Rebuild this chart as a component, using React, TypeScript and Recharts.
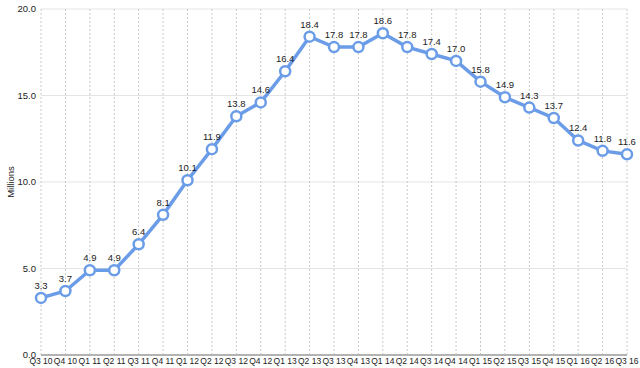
import { CartesianGrid, LabelList, Line, LineChart, XAxis, YAxis } from 'recharts'

const quarters = [
  'Q3 10', 'Q4 10', 'Q1 11', 'Q2 11', 'Q3 11', 'Q4 11', 'Q1 12', 'Q2 12', 'Q3 12',
  'Q4 12', 'Q1 13', 'Q2 13', 'Q3 13', 'Q4 13', 'Q1 14', 'Q2 14', 'Q3 14', 'Q4 14',
  'Q1 15', 'Q2 15', 'Q3 15', 'Q4 15', 'Q1 16', 'Q2 16', 'Q3 16',
]

const millions = [
  3.3, 3.7, 4.9, 4.9, 6.4, 8.1, 10.1, 11.9, 13.8, 14.6, 16.4, 18.4, 17.8, 17.8, 18.6,
  17.8, 17.4, 17.0, 15.8, 14.9, 14.3, 13.7, 12.4, 11.8, 11.6,
]

const yTicks = [0, 5, 10, 15, 20]

const font = 'Helvetica, Arial, "Liberation Sans", sans-serif'

const chartData = quarters.map((quarter, i) => ({ quarter, value: millions[i] }))

type LabelViewBox = { viewBox?: { x: number; y: number; width: number; height: number } }

function AxisTitle({ viewBox }: LabelViewBox) {
  if (!viewBox) return null
  const x = viewBox.x + 10
  const y = viewBox.y + viewBox.height / 2
  return (
    <text
      x={x}
      y={y}
      transform={`rotate(-90, ${x}, ${y})`}
      textAnchor="middle"
      dominantBaseline="central"
      fontSize={9.5}
      fill="#222"
      fontFamily={font}
    >
      Millions
    </text>
  )
}

export default function App() {
  return (
    <div style={{ position: 'absolute', left: 0, top: 0, background: '#fff' }}>
      <LineChart
        width={640}
        height={368}
        data={chartData}
        margin={{ top: 9, right: 13, bottom: 0, left: 0 }}
        style={{ fontFamily: font }}
      >
        <CartesianGrid vertical={false} stroke="#e4e4e4" />
        <CartesianGrid horizontal={false} stroke="#c8c8c8" strokeDasharray="2 2" />
        <XAxis
          dataKey="quarter"
          height={13}
          interval={0}
          tickLine={false}
          tickSize={0}
          tickMargin={3}
          axisLine={{ stroke: '#b3b3b3', strokeWidth: 2 }}
          tick={{ fontSize: 8.5, fill: '#222' }}
        />
        <YAxis
          width={41}
          domain={[0, 20]}
          ticks={yTicks}
          axisLine={false}
          tickLine={false}
          tickSize={0}
          tickMargin={5}
          tick={{ fontSize: 9.5, fill: '#222' }}
          tickFormatter={(value) => Number(value).toFixed(1)}
          label={<AxisTitle />}
        />
        <Line
          type="linear"
          dataKey="value"
          stroke="#6b9ce8"
          strokeWidth={3.5}
          dot={{ r: 5, strokeWidth: 2.5, fill: '#fff', stroke: '#6b9ce8' }}
          activeDot={false}
          isAnimationActive={false}
        >
          <LabelList
            dataKey="value"
            position="top"
            offset={9}
            fontSize={9.5}
            fill="#222"
            formatter={(value: unknown) => Number(value).toFixed(1)}
          />
        </Line>
      </LineChart>
    </div>
  )
}
